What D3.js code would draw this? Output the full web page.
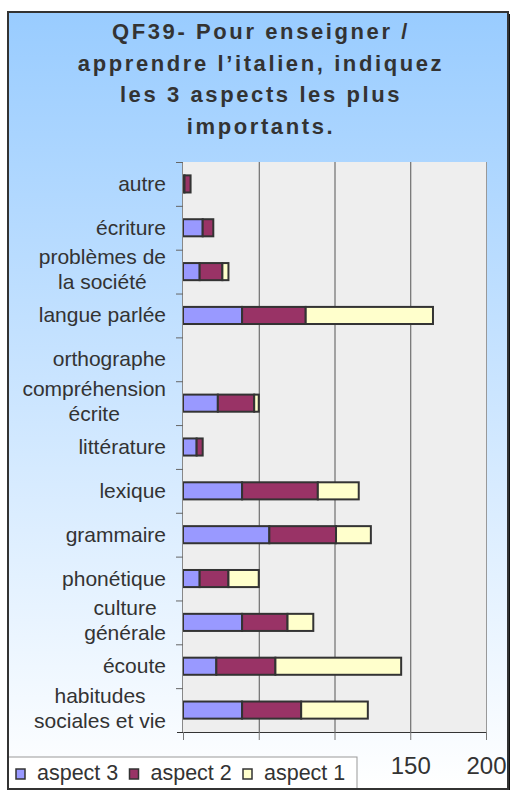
<!DOCTYPE html>
<html>
<head>
<meta charset="utf-8">
<script src="https://cdn.jsdelivr.net/npm/d3@7"></script>
<style>
	body { margin: 0; background: #fff; }
	svg { display: block; font-family: "Liberation Sans", Arial, sans-serif; }
</style>
</head>
<body>
<div id="chart"></div>
<script>
// Chart data
var categories = ["autre", "écriture", "problèmes de\nla société", "langue parlée", "orthographe",
	"compréhension\nécrite", "littérature", "lexique", "grammaire", "phonétique",
	"culture\ngénérale", "écoute", "habitudes\nsociales et vie"];
var aspect3 = [1, 13, 11, 39, 0, 23, 9, 39, 57, 11, 39, 22, 39];
var aspect2 = [4, 7, 15, 42, 0, 24, 4, 50, 44, 19, 30, 39, 39];
var aspect1 = [0, 0, 4, 84, 0, 3, 0, 27, 23, 20, 17, 83, 44];
var seriesNames = ["aspect 3", "aspect 2", "aspect 1"];
var xTicks = [0, 50, 100, 150, 200];
var titleLines = ["QF39- Pour enseigner /", "apprendre l\u2019italien, indiquez", "les 3 aspects les plus", "importants."];

var colors = ["#9999ff", "#993366", "#ffffcc"];

// Sizes
var W = 511, H = 791;
var frame = { x: 8, y: 12, w: 500, h: 777 };
var plot = { left: 183, right: 486, top: 162, bottom: 732 };
var legendTop = 757;

// Build table for the stack
var table = categories.map(function (c, i) {
	return { cat: c, "aspect 3": aspect3[i], "aspect 2": aspect2[i], "aspect 1": aspect1[i] };
});
var stacked = d3.stack().keys(seriesNames)(table);

// Scales
var x = d3.scaleLinear().domain([0, 200]).range([plot.left, plot.right]);
var y = d3.scaleBand().domain(categories).range([plot.top, plot.bottom])
	.paddingInner(0.61).paddingOuter(0.305);

var svg = d3.select("#chart").append("svg")
	.attr("width", W)
	.attr("height", H);

// Background gradient
var grad = svg.append("defs").append("linearGradient")
	.attr("id", "bg")
	.attr("x1", 0).attr("y1", 0).attr("x2", 0).attr("y2", 1);
grad.append("stop").attr("offset", "0%").attr("stop-color", "#99ccff");
grad.append("stop").attr("offset", "100%").attr("stop-color", "#ffffff");

svg.append("rect")
	.attr("x", frame.x).attr("y", frame.y)
	.attr("width", frame.w).attr("height", frame.h)
	.attr("fill", "url(#bg)");

// Title
svg.append("g").selectAll("text")
	.data(titleLines)
	.enter().append("text")
	.attr("x", 261)
	.attr("y", function (d, i) { return 39 + i * 31.7; })
	.attr("text-anchor", "middle")
	.attr("font-size", 22)
	.attr("font-weight", "bold")
	.attr("letter-spacing", 2.6)
	.attr("fill", "#333")
	.text(function (d) { return d; });

// Plot area
svg.append("rect")
	.attr("x", plot.left).attr("y", plot.top)
	.attr("width", plot.right - plot.left).attr("height", plot.bottom - plot.top)
	.attr("fill", "#eeeeee");

// Gridlines
svg.append("g").selectAll("line")
	.data(xTicks.filter(function (d) { return d > 0 && d < 200; }))
	.enter().append("line")
	.attr("x1", function (d) { return x(d) + 0.5; })
	.attr("x2", function (d) { return x(d) + 0.5; })
	.attr("y1", plot.top).attr("y2", plot.bottom)
	.attr("stroke", "#555");

svg.append("line")
	.attr("x1", plot.right + 0.5).attr("x2", plot.right + 0.5)
	.attr("y1", plot.top).attr("y2", plot.bottom)
	.attr("stroke", "#999");

// Bars
svg.append("g").selectAll("g")
	.data(stacked)
	.enter().append("g")
	.attr("fill", function (d, i) { return colors[i]; })
	.selectAll("rect")
	.data(function (d) { return d.filter(function (p) { return p[1] > p[0]; }); })
	.enter().append("rect")
	.attr("x", function (d) { return x(d[0]); })
	.attr("width", function (d) { return x(d[1]) - x(d[0]); })
	.attr("y", function (d) { return y(d.data.cat); })
	.attr("height", y.bandwidth())
	.attr("stroke", "#333")
	.attr("stroke-width", 2);

// Y axis line and ticks at band edges
svg.append("line")
	.attr("x1", plot.left - 0.5).attr("x2", plot.left - 0.5)
	.attr("y1", plot.top).attr("y2", plot.bottom)
	.attr("stroke", "#888");

svg.append("g").selectAll("line")
	.data(d3.range(categories.length))
	.enter().append("line")
	.attr("x1", plot.left - 7).attr("x2", plot.left)
	.attr("y1", function (i) { return plot.top + i * y.step() + 0.5; })
	.attr("y2", function (i) { return plot.top + i * y.step() + 0.5; })
	.attr("stroke", "#666");

// Category labels
var labels = svg.append("g").selectAll("g")
	.data(categories)
	.enter().append("g");

labels.each(function (c) {
	var g = d3.select(this);
	var lines = c.split("\n");
	var cy = y(c) + y.bandwidth() / 2;
	var lh = 25;
	var texts = g.selectAll("text")
		.data(lines)
		.enter().append("text")
		.attr("y", function (d, i) { return cy + 7 + (i - (lines.length - 1) / 2) * lh - (lines.length > 1 ? 2 : 0); })
		.attr("text-anchor", "middle")
		.attr("font-size", 21)
		.attr("fill", "#333")
		.text(function (d) { return d; });
	var maxW = 0;
	texts.each(function () { maxW = Math.max(maxW, this.getComputedTextLength()); });
	texts.attr("x", 166 - maxW / 2);
});

// X axis (labels under the legend box are hidden, as in the original)
var xAxis = svg.append("g")
	.attr("transform", "translate(0," + plot.bottom + ")")
	.call(d3.axisBottom(x).tickValues(xTicks).tickSize(8).tickPadding(17).tickSizeOuter(0)
		.tickFormat(function (d) { return x(d) + 22 < frame.x + 349 ? "" : d; }));
xAxis.select(".domain")
	.attr("d", "M" + (plot.left - 6) + ",0.5H" + plot.right)
	.attr("stroke", "#333");
xAxis.selectAll(".tick line").attr("stroke", "#777");
xAxis.selectAll(".tick text")
	.attr("font-family", "Liberation Sans, Arial, sans-serif")
	.attr("font-size", 24)
	.attr("fill", "#333");

// Legend
var legend = svg.append("g");
legend.append("rect")
	.attr("x", frame.x).attr("y", legendTop)
	.attr("width", 349).attr("height", frame.y + frame.h - legendTop)
	.attr("fill", "#fff")
	.attr("stroke", "#999");

var item = legend.selectAll("g.item")
	.data(seriesNames)
	.enter().append("g")
	.attr("class", "item")
	.attr("transform", function (d, i) { return "translate(" + (16 + i * 113.5) + ",769)"; });
item.append("rect")
	.attr("width", 9).attr("height", 10)
	.attr("fill", function (d, i) { return colors[i]; })
	.attr("stroke", "#333")
	.attr("stroke-width", 1.5);
item.append("text")
	.attr("x", 21).attr("y", 11)
	.attr("font-size", 21.5)
	.attr("fill", "#333")
	.text(function (d) { return d; });

// Frame border on top
svg.append("rect")
	.attr("x", frame.x).attr("y", frame.y)
	.attr("width", frame.w).attr("height", frame.h)
	.attr("fill", "none")
	.attr("stroke", "#333")
	.attr("stroke-width", 2);
svg.append("line")
	.attr("x1", frame.x + frame.w + 1.5).attr("x2", frame.x + frame.w + 1.5)
	.attr("y1", frame.y + 2).attr("y2", frame.y + frame.h + 1)
	.attr("stroke", "#111")
	.attr("stroke-width", 1);
</script>
</body>
</html>
